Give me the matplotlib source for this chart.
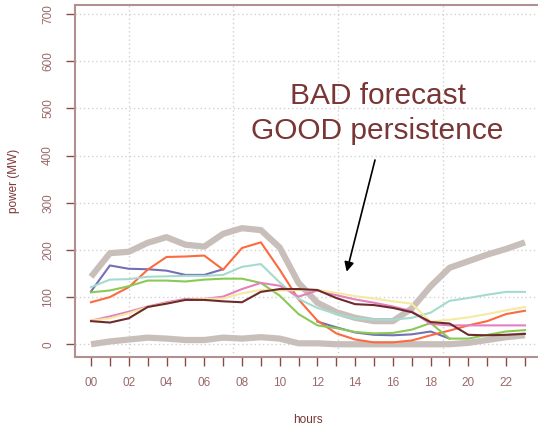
import numpy as np
import matplotlib.pyplot as plt

nan = np.nan
horas = np.arange(24)

# envelope (thick grey lines)
superior = [143, 193, 196, 215, 227, 211, 207, 234, 246, 242, 205, 130,
            88, 68, 56, 49, 49, 76, 123, 162, 176, 190, 202, 216]
inferior = [0, 6, 10, 14, 12, 9, 9, 14, 12, 15, 12, 2,
            2, 0, 0, 0, 0, 0, 0, 0, 3, 9, 15, 19]

# forecasts
roxo = [112, 167, 160, 159, 156, 147, 147, 159, nan, nan, nan, nan,
        48, 36, 25, 20, 19, 21, 27, 12, nan, nan, nan, nan]
laranja = [89, 100, 121, 158, 185, 186, 188, 158, 204, 216, 158, 95,
           50, 23, 10, 4, 4, 8, 19, 29, 40, 49, 64, 71]
turquesa = [121, 137, 138, 143, 144, 145, 145, 147, 164, 170, 131, 96,
            77, 64, 55, 52, 52, 56, 67, 92, 98, 105, 111, 111]
verde = [110, 114, 123, 135, 135, 133, 137, 139, 139, 130, 103, 64,
         40, 34, 26, 23, 24, 31, 45, 12, 12, 20, 27, 30]
rosa = [50, 59, 69, 80, 89, 96, 96, 101, 117, 130, 124, 101,
        114, 104, 95, 88, 80, 70, 43, 40, 40, 40, 40, 40]
amarelo = [50, 55, 66, 79, 87, 94, 96, 97, 108, 115, 114, 115,
           115, 109, 102, 97, 91, 86, 48, 52, 57, 64, 72, 79]
marrom = [49, 46, 55, 79, 86, 94, 94, 91, 89, 111, 117, 117,
          115, 98, 85, 83, 77, 68, 47, 44, 20, 19, 20, 22]

rotulos_x = ['%02d' % h if h % 2 == 0 else '' for h in horas]
linhas_grade_x = [2.0, 7.55, 13.1, 18.65]

COR_EIXO = '#b39090'
COR_TICK = '#8b4a4a'
COR_TEXTO = '#9a6a6a'
COR_ANOT = '#7a3535'

plt.rcParams['font.family'] = ['Liberation Sans', 'DejaVu Sans']

fig = plt.figure(figsize=(5.38, 4.25), dpi=100)
ax = fig.add_axes([75/538, 68/425, (541-75)/538, (357-5)/425])
ax.set_xlim(-0.85, 23.85)
ax.set_ylim(-27, 719)

for y in range(0, 800, 100):
    ax.axhline(y, color='#d2d2d2', lw=1, ls=(0, (1, 2)), zorder=0)
for x in linhas_grade_x:
    ax.axvline(x, color='#d2d2d2', lw=1, ls=(0, (1, 2)), zorder=0)

ax.plot(horas, superior, color='#c9bfba', lw=4.5, solid_capstyle='butt', zorder=2)
ax.plot(horas, inferior, color='#c9bfba', lw=4.5, solid_capstyle='butt', zorder=2)

ax.plot(horas, roxo, color='#7570b3', lw=1.5, zorder=3)
ax.plot(horas, laranja, color='#fc6a3f', lw=1.5, zorder=3)
ax.plot(horas, turquesa, color='#a5dbcf', lw=1.5, zorder=3)
ax.plot(horas, verde, color='#8bc956', lw=1.5, zorder=3)
ax.plot(horas, rosa, color='#e67fc0', lw=1.5, zorder=3)
ax.plot(horas, amarelo, color='#f6e9a0', lw=1.5, zorder=3)
ax.plot(horas, marrom, color='#6e2b2b', lw=1.5, zorder=4)

ax.spines['right'].set_visible(False)
for s in ['left', 'top', 'bottom']:
    ax.spines[s].set_color(COR_EIXO)
    ax.spines[s].set_linewidth(1.5)

ax.set_xticks(horas)
ax.set_xticklabels(rotulos_x)
ax.set_yticks(range(0, 800, 100))
ax.set_yticklabels([str(v) for v in range(0, 800, 100)], rotation=90, va='center')
ax.tick_params(axis='both', direction='out', length=6.5, width=1, color=COR_TICK,
               labelcolor=COR_TEXTO, labelsize=8.5)
ax.tick_params(axis='x', pad=8)
ax.tick_params(axis='y', pad=8.5)

ax.set_xlabel('hours', color=COR_ANOT, fontsize=8.5)
ax.xaxis.set_label_coords((307.5-75)/(541-75), (357-414)/352)
ax.set_ylabel('power (MW)', color=COR_ANOT, fontsize=8.5)
ax.yaxis.set_label_coords((20-75)/(541-75), 0.5)

ax.text(377.5/538, 1 - 96/425, 'BAD forecast', transform=fig.transFigure,
        ha='center', va='center', fontsize=21.5, color=COR_ANOT)
ax.text(377.5/538, 1 - 131/425, 'GOOD persistence', transform=fig.transFigure,
        ha='center', va='center', fontsize=21.5, color=COR_ANOT)

ax.annotate('', xy=(346.7/538, 1 - 271.7/425), xytext=(375/538, 1 - 160/425),
            xycoords='figure fraction', textcoords='figure fraction',
            arrowprops=dict(arrowstyle='-|>', color='black', lw=1.2,
                            mutation_scale=14, shrinkA=0, shrinkB=0))

fig.savefig('out.png', dpi=100)
